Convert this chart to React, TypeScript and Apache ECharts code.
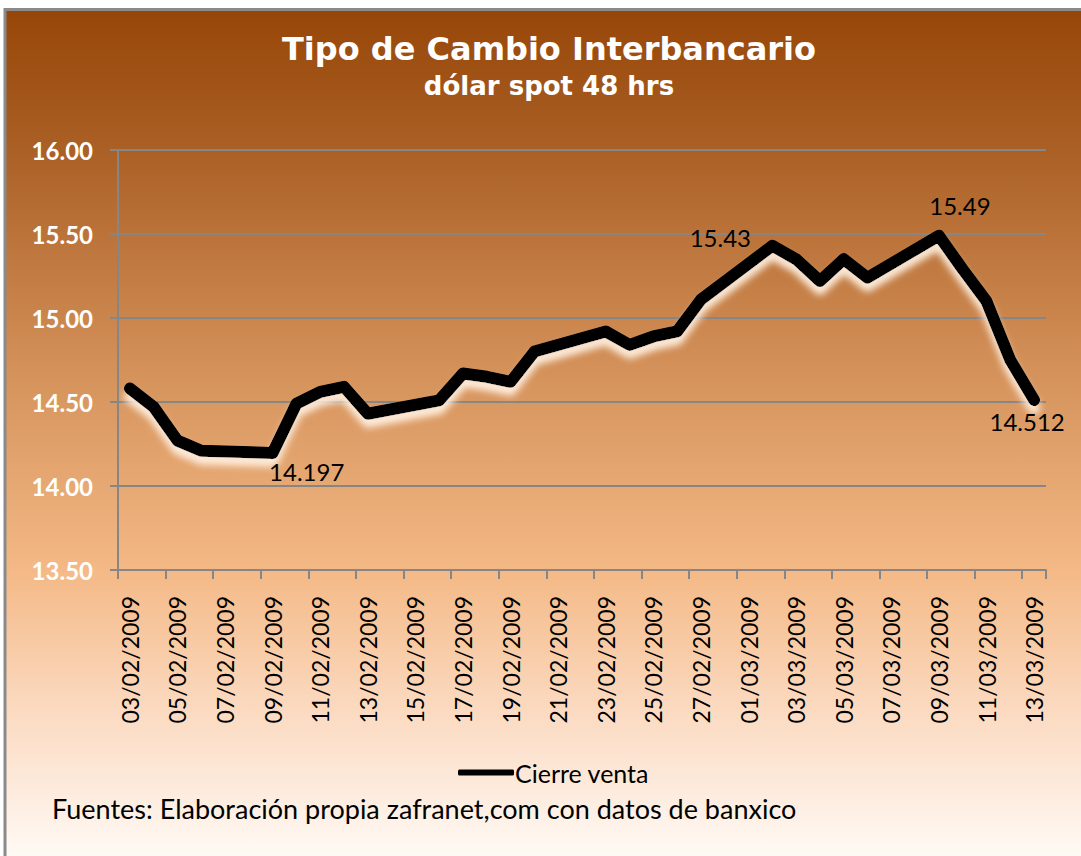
import React, { useEffect, useRef } from "react";
import * as echarts from "echarts";

const titleText = "Tipo de Cambio Interbancario";
const subtitleText = "dólar spot 48 hrs";
const seriesName = "Cierre venta";
const sourceText = "Fuentes: Elaboración propia zafranet,com con datos de banxico";

// every calendar day shown on the date axis
const axisDates = [
  "03/02/2009", "04/02/2009", "05/02/2009", "06/02/2009", "07/02/2009", "08/02/2009",
  "09/02/2009", "10/02/2009", "11/02/2009", "12/02/2009", "13/02/2009", "14/02/2009",
  "15/02/2009", "16/02/2009", "17/02/2009", "18/02/2009", "19/02/2009", "20/02/2009",
  "21/02/2009", "22/02/2009", "23/02/2009", "24/02/2009", "25/02/2009", "26/02/2009",
  "27/02/2009", "28/02/2009", "01/03/2009", "02/03/2009", "03/03/2009", "04/03/2009",
  "05/03/2009", "06/03/2009", "07/03/2009", "08/03/2009", "09/03/2009", "10/03/2009",
  "11/03/2009", "12/03/2009", "13/03/2009",
];

// trading days with a closing quote
const tradeDates = [
  "03/02/2009", "04/02/2009", "05/02/2009", "06/02/2009", "09/02/2009", "10/02/2009",
  "11/02/2009", "12/02/2009", "13/02/2009", "16/02/2009", "17/02/2009", "18/02/2009",
  "19/02/2009", "20/02/2009", "23/02/2009", "24/02/2009", "25/02/2009", "26/02/2009",
  "27/02/2009", "02/03/2009", "03/03/2009", "04/03/2009", "05/03/2009", "06/03/2009",
  "09/03/2009", "10/03/2009", "11/03/2009", "12/03/2009", "13/03/2009",
];
const closeValues = [
  14.58, 14.47, 14.27, 14.21, 14.197, 14.49,
  14.56, 14.59, 14.43, 14.51, 14.67, 14.65,
  14.62, 14.80, 14.92, 14.84, 14.89, 14.92,
  15.11, 15.43, 15.35, 15.22, 15.35, 15.24,
  15.49, 15.29, 15.10, 14.75, 14.512,
];

// points that carry a data label, with the text shown
const labelledDates = ["09/02/2009", "02/03/2009", "09/03/2009", "13/03/2009"];
const labelTexts = ["14.197", "15.43", "15.49", "14.512"];

const yMin = 13.5;
const yMax = 16;
const yStep = 0.5;

export default function App() {
  const ref = useRef<HTMLDivElement>(null);

  useEffect(() => {
    if (!ref.current) return;
    const chart = echarts.init(ref.current, undefined, { renderer: "svg" });

    const labelOffsets: Record<string, [number, number]> = {
      "09/02/2009": [34, 19],
      "02/03/2009": [-52, -8],
      "09/03/2009": [21, -30],
      "13/03/2009": [-7, 22],
    };

    const data = axisDates.map((d) => {
      const i = tradeDates.indexOf(d);
      if (i < 0) return null;
      const li = labelledDates.indexOf(d);
      if (li < 0) return { value: closeValues[i] };
      return {
        value: closeValues[i],
        label: {
          show: true,
          position: "inside",
          offset: labelOffsets[d],
          formatter: labelTexts[li],
          color: "#000",
          fontFamily: "Lato",
          fontSize: 24,
        },
      };
    });

    chart.setOption({
      animation: false,
      graphic: [
        {
          type: "rect",
          z: -10,
          silent: true,
          shape: { x: 5, y: 9.5, width: 1090, height: 850 },
          style: {
            stroke: "#8a8a8a",
            lineWidth: 3,
            fill: new echarts.graphic.LinearGradient(0, 0, 0, 1, [
              { offset: 0, color: "#974608" },
              { offset: 0.16, color: "#aa5f24" },
              { offset: 0.45, color: "#d8965f" },
              { offset: 0.66, color: "#f4b986" },
              { offset: 0.82, color: "#fbd9bf" },
              { offset: 1, color: "#fffaf6" },
            ]),
          },
        },
        {
          type: "text",
          x: 549,
          y: 49,
          style: {
            text: titleText,
            fill: "#ffffff",
            fontFamily: "DejaVu Sans",
            fontWeight: "bold",
            fontSize: 32,
            textAlign: "center",
            textVerticalAlign: "middle",
          },
        },
        {
          type: "text",
          x: 549,
          y: 86,
          style: {
            text: subtitleText,
            fill: "#ffffff",
            fontFamily: "DejaVu Sans",
            fontWeight: "bold",
            fontSize: 26,
            textAlign: "center",
            textVerticalAlign: "middle",
          },
        },
        {
          type: "text",
          x: 52,
          y: 808,
          style: {
            text: sourceText,
            fill: "#000000",
            fontFamily: "Lato",
            fontSize: 27,
            textAlign: "left",
            textVerticalAlign: "middle",
          },
        },
      ],
      grid: { left: 118, right: 35, top: 150, bottom: 286, containLabel: false },
      legend: {
        data: [seriesName],
        left: 453,
        top: 755,
        icon: "roundRect",
        itemWidth: 56,
        itemHeight: 6,
        itemGap: 4,
        textStyle: { color: "#000", fontFamily: "Lato", fontSize: 25, padding: [0, 0, 0, -4] },
      },
      xAxis: {
        type: "category",
        data: axisDates,
        boundaryGap: true,
        axisLine: { show: true, lineStyle: { color: "#868686", width: 2 } },
        axisTick: {
          show: true,
          interval: 1,
          length: 9,
          lineStyle: { color: "#868686", width: 2 },
        },
        axisLabel: {
          interval: 1,
          rotate: 90,
          margin: 26,
          color: "#000",
          fontFamily: "Lato",
          fontSize: 23,
        },
        splitLine: { show: false },
      },
      yAxis: {
        type: "value",
        min: yMin,
        max: yMax,
        interval: yStep,
        axisLine: { show: true, lineStyle: { color: "#868686", width: 2 } },
        axisTick: { show: true, length: 8, lineStyle: { color: "#868686", width: 2 } },
        axisLabel: {
          margin: 25,
          color: "#ffffff",
          fontFamily: "Lato",
          fontWeight: "bold",
          fontSize: 24,
          formatter: (v: number) => v.toFixed(2),
        },
        splitLine: { show: true, lineStyle: { color: "#868686", width: 2 } },
      },
      series: [
        {
          name: seriesName,
          type: "line",
          data,
          connectNulls: true,
          showSymbol: true,
          symbol: "circle",
          symbolSize: 1,
          itemStyle: { color: "#000" },
          lineStyle: {
            color: "#000",
            width: 12,
            cap: "round",
            join: "round",
            shadowColor: "rgba(255,240,225,0.95)",
            shadowBlur: 7,
            shadowOffsetY: 8,
          },
          label: { show: false },
        },
      ],
    });

    return () => chart.dispose();
  }, []);

  return (
    <div
      ref={ref}
      style={{ position: "fixed", left: 0, top: 0, width: 1081, height: 856, background: "#fff" }}
    />
  );
}
